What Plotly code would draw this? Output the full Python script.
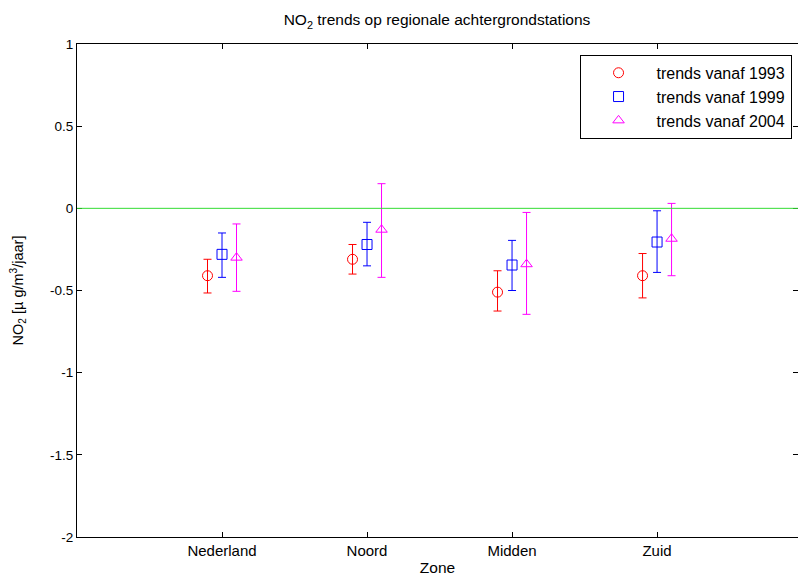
import plotly.graph_objects as go

# Zones on the x axis (positions 1..4)
zones = ["Nederland", "Noord", "Midden", "Zuid"]
zone_pos = [1, 2, 3, 4]

# Trend estimates [µg/m³/jaar] with lower/upper bounds of the uncertainty band
trend_1993 = [-0.41, -0.31, -0.51, -0.41]
lower_1993 = [-0.515, -0.40, -0.625, -0.545]
upper_1993 = [-0.31, -0.22, -0.38, -0.275]

trend_1999 = [-0.28, -0.22, -0.345, -0.205]
lower_1999 = [-0.42, -0.35, -0.50, -0.39]
upper_1999 = [-0.15, -0.085, -0.195, -0.015]

trend_2004 = [-0.30, -0.13, -0.34, -0.185]
lower_2004 = [-0.505, -0.42, -0.645, -0.41]
upper_2004 = [-0.095, 0.15, -0.025, 0.03]

series_names = ["trends vanaf 1993", "trends vanaf 1999", "trends vanaf 2004"]
series_offsets = [-0.1, 0.0, 0.1]
series_colors = ["#ff0000", "#0000ff", "#ff00ff"]
series_symbols = ["circle-open", "square-open", "triangle-up-open"]

y_ticks = [1, 0.5, 0, -0.5, -1, -1.5, -2]
y_tick_text = ["1", "0.5", "0", "-0.5", "-1", "-1.5", "-2"]

fig = go.Figure()

data = [
    (trend_1993, lower_1993, upper_1993),
    (trend_1999, lower_1999, upper_1999),
    (trend_2004, lower_2004, upper_2004),
]

for (vals, lo, hi), name, off, col, sym in zip(
    data, series_names, series_offsets, series_colors, series_symbols
):
    fig.add_trace(
        go.Scatter(
            x=[p + off for p in zone_pos],
            y=vals,
            mode="markers",
            name=name,
            marker=dict(symbol=sym, size=10, color=col, line=dict(width=1, color=col)),
            error_y=dict(
                type="data",
                symmetric=False,
                array=[h - v for h, v in zip(hi, vals)],
                arrayminus=[v - l for v, l in zip(vals, lo)],
                color=col,
                thickness=1,
                width=4,
            ),
        )
    )

# zero reference line
fig.add_hline(y=0, line=dict(color="#33dd33", width=1))

narrow = "Liberation Sans Narrow, Arial Narrow, Liberation Sans, Arial"
regular = "Liberation Sans, Arial"

fig.update_layout(
    width=798,
    height=578,
    margin=dict(l=77, r=0, t=44, b=41),
    paper_bgcolor="white",
    plot_bgcolor="white",
    showlegend=True,
    title=dict(
        text="NO<sub>2</sub> trends op regionale achtergrondstations",
        x=(77 + 797) / 2 / 798,
        xanchor="center",
        y=1 - 20 / 578,
        yanchor="middle",
        font=dict(family=narrow, size=15.5, color="black"),
    ),
    legend=dict(
        x=0.697,
        xanchor="left",
        y=0.978,
        yanchor="top",
        bgcolor="white",
        bordercolor="black",
        borderwidth=1,
        itemwidth=66,
        font=dict(family=regular, size=16, color="black"),
        tracegroupgap=0,
    ),
    xaxis=dict(
        range=[0, 4.972],
        tickvals=zone_pos,
        ticktext=zones,
        ticks="inside",
        ticklen=5,
        tickcolor="black",
        showline=True,
        linecolor="black",
        linewidth=1,
        mirror="ticks",
        showgrid=False,
        zeroline=False,
        tickfont=dict(family=narrow, size=15, color="black"),
        title=dict(text="Zone", font=dict(family=narrow, size=15.5, color="black"), standoff=4),
    ),
    yaxis=dict(
        range=[-2, 1],
        tickvals=y_ticks,
        ticktext=y_tick_text,
        ticks="inside",
        ticklen=5,
        tickcolor="black",
        showline=True,
        linecolor="black",
        linewidth=1,
        mirror="ticks",
        showgrid=False,
        zeroline=False,
        tickfont=dict(family=regular, size=13.5, color="black"),
        title=dict(
            text="NO<sub>2</sub> [µ g/m<sup>3</sup>/jaar]",
            font=dict(family=regular, size=14.5, color="black"),
            standoff=22,
        ),
    ),
)

fig.write_html("out.html")
